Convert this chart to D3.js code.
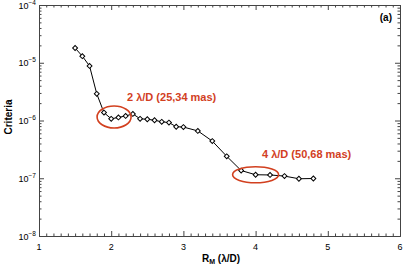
<!DOCTYPE html>
<html>
<head>
<meta charset="utf-8">
<script src="https://cdn.jsdelivr.net/npm/d3@7"></script>
<style>
  body { margin: 0; background: #fff; }
  text { font-family: "Liberation Sans", Arial, sans-serif; }
</style>
</head>
<body>
<div class="chart"></div>
<script>
// radius values in lambda/D and the criteria
const radius = [1.5, 1.6, 1.7, 1.8, 1.9, 2.0, 2.1, 2.2, 2.3, 2.4, 2.5, 2.6, 2.7, 2.8, 2.9, 3.0,
                3.2, 3.4, 3.6, 3.8, 4.0, 4.2, 4.4, 4.6, 4.8];
const criteria = [1.8e-5, 1.3e-5, 8.8e-6, 2.9e-6, 1.37e-6, 1.07e-6, 1.13e-6, 1.2e-6, 1.3e-6,
                  1.07e-6, 1.05e-6, 1.01e-6, 9.5e-7, 9.2e-7, 7.8e-7, 7.7e-7, 6.6e-7, 4.4e-7,
                  2.4e-7, 1.36e-7, 1.15e-7, 1.14e-7, 1.09e-7, 9.8e-8, 9.9e-8];
const xTicks = [1, 2, 3, 4, 5, 6];
const yExps = [-4, -5, -6, -7, -8];
const notes = [
  { x: 2.04, y: 1.15e-6, label: "2 \u03bb/D (25,34 mas)" },
  { x: 4.0, y: 1.15e-7, label: "4 \u03bb/D (50,68 mas)" }
];

const width = 407;
const height = 265;
const red = "#d2401f";
const axisCol = "#444";

const svg = d3.select(".chart")
              .append("svg")
              .attr("width", width)
              .attr("height", height);

const x = d3.scaleLinear().domain([1, 6]).range([39, 400]);
const y = d3.scaleLog().domain([1e-8, 1e-4]).range([236, 5]);

const xMinor = d3.range(10, 61).map(d => d / 10).filter(d => !xTicks.includes(d));
const yMinor = [];
yExps.slice(1).forEach(e => { for (let k = 2; k < 10; k++) yMinor.push(k * Math.pow(10, e)); });

function styleAxis(g) {
  g.selectAll("path, line").attr("stroke", axisCol).attr("stroke-width", 1);
}

// frame with inward ticks on all four sides
svg.append("g").attr("transform", "translate(0,236)")
   .call(d3.axisBottom(x).tickValues(xTicks).tickSize(-5).tickSizeOuter(0).tickFormat(""))
   .call(styleAxis);
svg.append("g").attr("transform", "translate(0,236)")
   .call(d3.axisBottom(x).tickValues(xMinor).tickSize(-2.5).tickSizeOuter(0).tickFormat(""))
   .call(styleAxis);
svg.append("g").attr("transform", "translate(0,5)")
   .call(d3.axisTop(x).tickValues(xTicks).tickSize(-5).tickSizeOuter(0).tickFormat(""))
   .call(styleAxis);
svg.append("g").attr("transform", "translate(0,5)")
   .call(d3.axisTop(x).tickValues(xMinor).tickSize(-2.5).tickSizeOuter(0).tickFormat(""))
   .call(styleAxis);

const yMajor = yExps.map(e => Math.pow(10, e));
svg.append("g").attr("transform", "translate(39,0)")
   .call(d3.axisLeft(y).tickValues(yMajor).tickSize(-5).tickSizeOuter(0).tickFormat(""))
   .call(styleAxis);
svg.append("g").attr("transform", "translate(39,0)")
   .call(d3.axisLeft(y).tickValues(yMinor).tickSize(-2.5).tickSizeOuter(0).tickFormat(""))
   .call(styleAxis);
svg.append("g").attr("transform", "translate(400,0)")
   .call(d3.axisRight(y).tickValues(yMajor).tickSize(-5).tickSizeOuter(0).tickFormat(""))
   .call(styleAxis);
svg.append("g").attr("transform", "translate(400,0)")
   .call(d3.axisRight(y).tickValues(yMinor).tickSize(-2.5).tickSizeOuter(0).tickFormat(""))
   .call(styleAxis);

// tick labels
svg.selectAll(".xlab")
  .data(xTicks)
  .enter()
  .append("text")
  .attr("x", d => x(d))
  .attr("y", 250)
  .attr("text-anchor", "middle")
  .style("font-size", "9px")
  .text(d => d);

const ylab = svg.selectAll(".ylab")
  .data(yExps)
  .enter()
  .append("text")
  .attr("x", 36)
  .attr("y", d => y(Math.pow(10, d)) + 3.5)
  .attr("text-anchor", "end")
  .style("font-size", "9px");
ylab.append("tspan").text("10");
ylab.append("tspan").attr("dy", -4).style("font-size", "6.5px").text(d => "\u2212" + (-d));

// axis titles
svg.append("text")
  .attr("transform", "translate(12,117) rotate(-90)")
  .attr("text-anchor", "middle")
  .style("font-size", "10px")
  .style("font-weight", "bold")
  .text("Criteria");

const xt = svg.append("text")
  .attr("x", 221)
  .attr("y", 262)
  .attr("text-anchor", "middle")
  .style("font-size", "10px")
  .style("font-weight", "bold");
xt.append("tspan").text("R");
xt.append("tspan").attr("dy", 1.5).style("font-size", "7px").text("M");
xt.append("tspan").attr("dy", -1.5).text(" (\u03bb/D)");

svg.append("text")
  .attr("x", 392)
  .attr("y", 21)
  .attr("text-anchor", "end")
  .style("font-size", "10px")
  .style("font-weight", "bold")
  .text("(a)");

// curve and diamond markers
const pts = radius.map((r, i) => [r, criteria[i]]);
svg.append("path")
  .datum(pts)
  .attr("fill", "none")
  .attr("stroke", "#000")
  .attr("stroke-width", 1)
  .attr("d", d3.line().x(d => x(d[0])).y(d => y(d[1])));

svg.selectAll(".pt")
  .data(pts)
  .enter()
  .append("path")
  .attr("transform", d => `translate(${x(d[0])},${y(d[1])}) rotate(45)`)
  .attr("d", d3.symbol(d3.symbolSquare, 12))
  .attr("fill", "#fff")
  .attr("stroke", "#000")
  .attr("stroke-width", 1);

// annotations
svg.append("ellipse")
  .attr("cx", x(notes[0].x)).attr("cy", y(notes[0].y))
  .attr("rx", 17).attr("ry", 11)
  .attr("fill", "none").attr("stroke", red).attr("stroke-width", 1.6);
svg.append("ellipse")
  .attr("cx", x(notes[1].x)).attr("cy", y(notes[1].y))
  .attr("rx", 23).attr("ry", 8)
  .attr("fill", "none").attr("stroke", red).attr("stroke-width", 1.6);

svg.append("text")
  .attr("x", 127).attr("y", 100.5)
  .attr("fill", red)
  .style("font-size", "11px")
  .style("font-weight", "bold")
  .text(notes[0].label);
svg.append("text")
  .attr("x", 262).attr("y", 158)
  .attr("fill", red)
  .style("font-size", "11px")
  .style("font-weight", "bold")
  .text(notes[1].label);
</script>
</body>
</html>
